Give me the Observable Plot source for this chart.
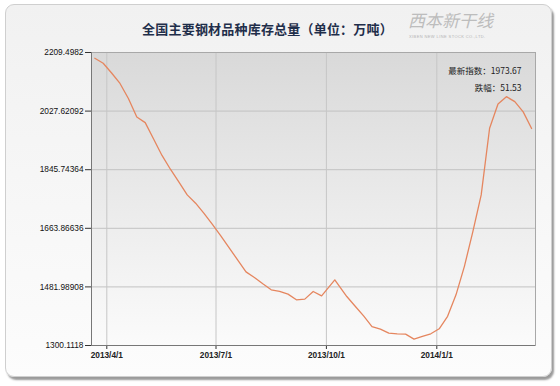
<!DOCTYPE html>
<html>
<head>
<meta charset="utf-8">
<script src="https://cdn.jsdelivr.net/npm/d3@7"></script>
<script src="https://cdn.jsdelivr.net/npm/@observablehq/plot@0.6"></script>
<style>
  html, body { margin: 0; padding: 0; background: #ffffff; }
  #wrap { position: relative; width: 560px; height: 386px; overflow: hidden; }
  #card { position: absolute; left: 5px; top: 4px; width: 545px; height: 371px;
          border: 1px solid #cfcfcf; border-radius: 9px;
          box-shadow: 2px 3px 2px #9a9a9a;
          background: linear-gradient(#f1f1f1, #fcfcfc); }
  #title { position: absolute; left: 0; top: 19px; width: 535px; text-align: center;
           font-family: "Noto Sans CJK SC", sans-serif; font-weight: bold; font-size: 13px;
           color: #1f2e4a; letter-spacing: 0.2px; }
  #logo { position: absolute; left: 408px; top: 10px; font-family: "Noto Sans CJK SC", sans-serif;
          font-size: 17px; font-style: italic; color: #b4b4b4; opacity: 0.85; line-height: 20px; }
  #logosub { position: absolute; left: 409px; top: 34px; font-family: "Liberation Sans", sans-serif;
          font-size: 4px; line-height: 5px; letter-spacing: 0.4px; color: #b4b4b4; }
  #chart { position: absolute; left: 0; top: 0; }
</style>
</head>
<body>
<div id="wrap">
  <div id="card"></div>
  <div id="logo">西本新干线</div>
  <div id="logosub">XIBEN NEW LINE STOCK CO.,LTD.</div>
  <div id="title">全国主要钢材品种库存总量（单位：万吨）</div>
  <div id="chart"></div>
</div>
<script>
// ---- data ----
const dates = [
  "2013-03-22","2013-03-29","2013-04-05","2013-04-12","2013-04-19","2013-04-26",
  "2013-05-03","2013-05-10","2013-05-17","2013-05-24","2013-05-31","2013-06-07",
  "2013-06-14","2013-06-21","2013-06-28","2013-07-05","2013-07-12","2013-07-19",
  "2013-07-26","2013-08-02","2013-08-09","2013-08-16","2013-08-23","2013-08-30",
  "2013-09-06","2013-09-13","2013-09-20","2013-09-27","2013-10-08","2013-10-18",
  "2013-10-25","2013-11-01","2013-11-08","2013-11-15","2013-11-22","2013-11-29",
  "2013-12-06","2013-12-13","2013-12-20","2013-12-27","2014-01-03","2014-01-10",
  "2014-01-17","2014-01-24","2014-01-31","2014-02-07","2014-02-14","2014-02-21",
  "2014-02-28","2014-03-07","2014-03-14","2014-03-21"
];
const inventory = [
  2191.5, 2176.0, 2145.9, 2113.4, 2066.8, 2009.4,
  1991.8, 1941.2, 1890.0, 1847.2, 1807.8, 1767.5,
  1741.8, 1710.1, 1676.0, 1640.4, 1603.1, 1565.9,
  1528.7, 1511.3, 1491.5, 1472.9, 1468.2, 1459.5,
  1441.9, 1444.0, 1467.6, 1454.3, 1503.9, 1452.1,
  1422.0, 1392.2, 1359.0, 1351.0, 1338.6, 1336.4,
  1335.5, 1320.0, 1328.6, 1336.4, 1351.9, 1390.7,
  1457.4, 1545.8, 1652.8, 1767.5, 1974.4, 2049.8,
  2072.4, 2056.9, 2025.20, 1973.67
];
const yTicks = [1300.1118, 1481.98908, 1663.86636, 1845.74364, 2027.62092, 2209.4982];
const yTickLabels = ["1300.1118", "1481.98908", "1663.86636", "1845.74364", "2027.62092", "2209.4982"];
const xTickDates = ["2013-04-01", "2013-07-01", "2013-10-01", "2014-01-01"];
const xTickLabels = ["2013/4/1", "2013/7/1", "2013/10/1", "2014/1/1"];
const xDomain = ["2013-03-19T06:00", "2014-03-24T06:00"];
const latestLabel = "最新指数：";
const changeLabel = "跌幅：";

// ---- build ----
const parse = s => new Date(s.length > 10 ? s + ":00Z" : s + "T00:00:00Z");
const data = dates.map((d, i) => ({date: parse(d), value: inventory[i]}));
const xTicks = xTickDates.map(parse);
const latest = inventory[inventory.length - 1];
const change = +(inventory[inventory.length - 2] - latest).toFixed(2);

const fmtX = d => xTickLabels[xTicks.findIndex(t => +t === +d)];
const fmtY = d => yTickLabels[yTicks.indexOf(d)];

const chart = Plot.plot({
  width: 560,
  height: 386,
  marginLeft: 91,
  marginRight: 25,
  marginTop: 52,
  marginBottom: 41,
  style: {background: "transparent", fontFamily: "Liberation Sans, Arial, sans-serif", fontSize: "8px", color: "#222"},
  x: {type: "utc", domain: xDomain.map(parse), label: null},
  y: {domain: [yTicks[0], yTicks[yTicks.length - 1]], label: null},
  marks: [
    Plot.frame({fill: "url(#plotbg)", stroke: "none"}),
    Plot.gridY(yTicks, {stroke: "#c2c2c2", strokeOpacity: 1, strokeWidth: 1}),
    Plot.gridX(xTicks, {stroke: "#c6c6c6", strokeOpacity: 1, strokeWidth: 1}),
    Plot.frame({stroke: "#a8a8a8", strokeWidth: 1}),
    Plot.axisY(yTicks, {tickFormat: fmtY, tickSize: 6, tickPadding: 2, stroke: "#333", fontSize: 8.3, fill: "#111"}),
    Plot.axisX(xTicks, {tickFormat: fmtX, tickSize: 4, tickPadding: 3, stroke: "#333", fontSize: 8.3, fontWeight: "bold", fill: "#222"}),
    Plot.ruleX([parse(xDomain[0])], {stroke: "#777"}),
    Plot.ruleY([yTicks[0]], {stroke: "#777"}),
    Plot.lineY(data, {x: "date", y: "value", stroke: "#e5865f", strokeWidth: 1.3}),
    Plot.text([latestLabel + latest.toFixed(2)], {frameAnchor: "top-right", dx: -14, dy: 15, textAnchor: "end", fontSize: 8.5, fill: "#222", fontFamily: "Noto Sans CJK SC, sans-serif"}),
    Plot.text([changeLabel + change.toFixed(2)], {frameAnchor: "top-right", dx: -14, dy: 32, textAnchor: "end", fontSize: 8.5, fill: "#222", fontFamily: "Noto Sans CJK SC, sans-serif"})
  ]
});

d3.select(chart).insert("defs", ":first-child").html(
  '<linearGradient id="plotbg" x1="0" y1="0" x2="0" y2="1">' +
  '<stop offset="0" stop-color="#d9d9d9"/>' +
  '<stop offset="0.55" stop-color="#ececec"/>' +
  '<stop offset="1" stop-color="#fbfbfb"/>' +
  '</linearGradient>'
);
document.getElementById("chart").appendChild(chart);
</script>
</body>
</html>
